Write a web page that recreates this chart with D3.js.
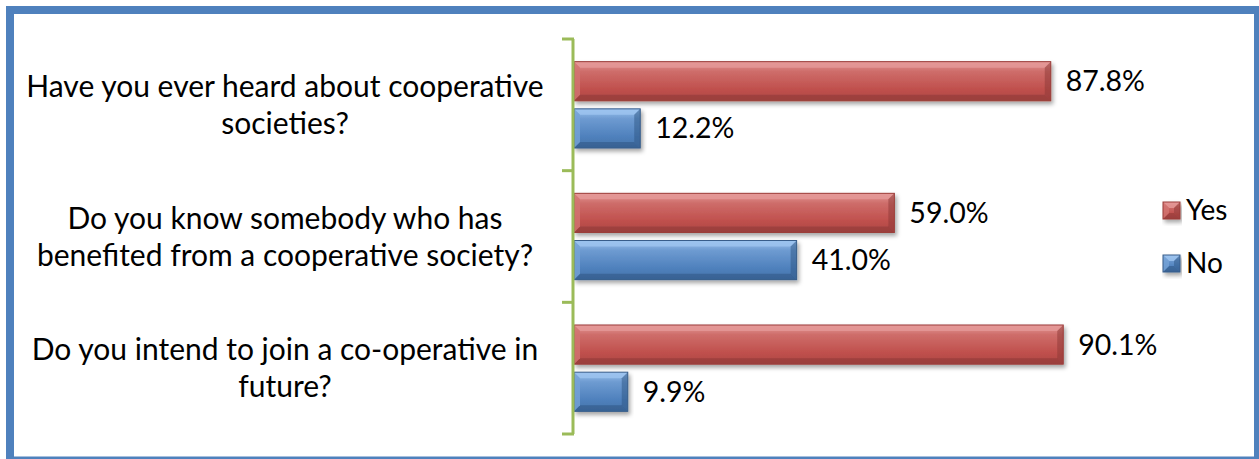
<!DOCTYPE html>
<html>
<head>
<meta charset="utf-8">
<script src="https://cdn.jsdelivr.net/npm/d3@7"></script>
<style>
  body { margin: 0; background: #fff; }
  svg { display: block; }
  text { font-family: Lato, "Liberation Sans", sans-serif; fill: #000; }
</style>
</head>
<body>
<svg width="1259" height="459"></svg>
<script>
var svg = d3.select('svg')
var width = +svg.attr('width')
var height = +svg.attr('height')

// chart data
var categories = [
  ['Have you ever heard about cooperative', 'societies?'],
  ['Do you know somebody who has', 'benefited from a cooperative society?'],
  ['Do you intend to join a co-operative in', 'future?']
]
var seriesNames = ['Yes', 'No']
var yesValues = [87.8, 59.0, 90.1]
var noValues = [12.2, 41.0, 9.9]

var colors = {
  Yes: { base: '#C0504D', light: '#E49896', dark: '#8C3836', edge: '#9B3D3A' },
  No:  { base: '#4F81BD', light: '#9CC3EE', dark: '#2E5583', edge: '#385D8A' }
}

var rows = categories.map(function(c, i) {
  return { label: c, key: 'c' + i, Yes: yesValues[i], No: noValues[i] }
})

var x = d3.scaleLinear().domain([0, 100]).range([574, 1117])
var y = d3.scaleBand().domain(rows.map(function(d) { return d.key })).range([39, 434])
var yInner = d3.scaleBand().domain(seriesNames).range([0, y.bandwidth()])
  .paddingInner(0.17).paddingOuter(0.48)

var defs = svg.append('defs')
var filt = defs.append('filter').attr('id', 'shadow')
  .attr('x', '-5%').attr('y', '-20%').attr('width', '115%').attr('height', '160%')
filt.append('feDropShadow').attr('dx', 2).attr('dy', 3).attr('stdDeviation', 2.2)
  .attr('flood-color', '#000').attr('flood-opacity', 0.35)

seriesNames.forEach(function(s) {
  var g = defs.append('linearGradient').attr('id', 'grad' + s)
    .attr('x1', 0).attr('y1', 0).attr('x2', 0).attr('y2', 1)
  g.append('stop').attr('offset', '0%').attr('stop-color', colors[s].light)
  g.append('stop').attr('offset', '25%').attr('stop-color', d3.interpolateRgb(colors[s].light, colors[s].base)(0.6))
  g.append('stop').attr('offset', '70%').attr('stop-color', colors[s].base)
  g.append('stop').attr('offset', '100%').attr('stop-color', d3.color(colors[s].base).darker(0.3))
})

// outer frame
svg.append('rect').attr('x', 10).attr('y', 10).attr('width', 1246).attr('height', 448)
  .attr('fill', 'none').attr('stroke', '#4F81BD').attr('stroke-width', 8)
svg.append('rect').attr('x', 14).attr('y', 14).attr('width', 1240).attr('height', 444)
  .attr('fill', '#fff')
svg.append('line').attr('x1', 14).attr('x2', 1254).attr('y1', 457.5).attr('y2', 457.5)
  .attr('stroke', '#4F81BD').attr('stroke-width', 2)

// beveled bar
function bevelBar(g, x0, y0, w, h, s) {
  var c = colors[s]
  var b = Math.min(6, w / 2)
  var grp = g.append('g').attr('filter', 'url(#shadow)')
  grp.append('rect').attr('x', x0).attr('y', y0).attr('width', w).attr('height', h)
    .attr('fill', 'url(#grad' + s + ')')
  // top bevel
  grp.append('path').attr('d', 'M' + x0 + ',' + y0 + 'H' + (x0 + w) + 'L' + (x0 + w - b) + ',' + (y0 + b) + 'H' + (x0 + b) + 'Z')
    .attr('fill', c.light).attr('opacity', 0.85)
  // bottom bevel
  grp.append('path').attr('d', 'M' + x0 + ',' + (y0 + h) + 'H' + (x0 + w) + 'L' + (x0 + w - b) + ',' + (y0 + h - b) + 'H' + (x0 + b) + 'Z')
    .attr('fill', c.dark).attr('opacity', 0.55)
  // left bevel
  grp.append('path').attr('d', 'M' + x0 + ',' + y0 + 'L' + (x0 + b) + ',' + (y0 + b) + 'V' + (y0 + h - b) + 'L' + x0 + ',' + (y0 + h) + 'Z')
    .attr('fill', d3.interpolateRgb(c.light, c.base)(0.5)).attr('opacity', 0.8)
  // right bevel
  grp.append('path').attr('d', 'M' + (x0 + w) + ',' + y0 + 'L' + (x0 + w - b) + ',' + (y0 + b) + 'V' + (y0 + h - b) + 'L' + (x0 + w) + ',' + (y0 + h) + 'Z')
    .attr('fill', c.dark).attr('opacity', 0.5)
  grp.append('rect').attr('x', x0).attr('y', y0).attr('width', w).attr('height', h)
    .attr('fill', 'none').attr('stroke', c.edge).attr('stroke-width', 1)
}

// bars
var bars = svg.append('g')
rows.forEach(function(d) {
  seriesNames.forEach(function(s) {
    var y0 = y(d.key) + yInner(s)
    bevelBar(bars, x(0), y0, x(d[s]) - x(0), yInner.bandwidth(), s)
    bars.append('text')
      .attr('x', x(d[s]) + 15)
      .attr('y', y0 + yInner.bandwidth() / 2)
      .attr('dy', '0.35em')
      .attr('font-size', 28.5)
      .text(d3.format('.1f')(d[s]) + '%')
  })
})

// vertical axis
var axis = svg.append('g')
axis.append('line').attr('x1', 573).attr('x2', 573).attr('y1', y.range()[0]).attr('y2', y.range()[1])
  .attr('stroke', '#9BBB59').attr('stroke-width', 3)
var tickYs = rows.map(function(d) { return y(d.key) }).concat([y.range()[1]])
axis.selectAll('.tick').data(tickYs).enter().append('line')
  .attr('x1', 562).attr('x2', 574).attr('y1', function(d) { return d }).attr('y2', function(d) { return d })
  .attr('stroke', '#9BBB59').attr('stroke-width', 3)

// category labels
var labels = svg.append('g')
rows.forEach(function(d) {
  var cy = y(d.key) + y.bandwidth() / 2
  var t = labels.append('text').attr('text-anchor', 'middle').attr('font-size', 30)
  d.label.forEach(function(line, i) {
    t.append('tspan').attr('x', 285)
      .attr('y', cy + (i - (d.label.length - 1) / 2) * 37)
      .attr('dy', '0.35em')
      .text(line)
  })
})

// legend
var legend = svg.append('g')
seriesNames.forEach(function(s, i) {
  var ly = 210 + i * 53
  bevelBar(legend, 1163, ly - 8, 17, 17, s)
  legend.append('text').attr('x', 1186).attr('y', ly).attr('dy', '0.35em')
    .attr('font-size', 28).text(s)
})
</script>
</body>
</html>
